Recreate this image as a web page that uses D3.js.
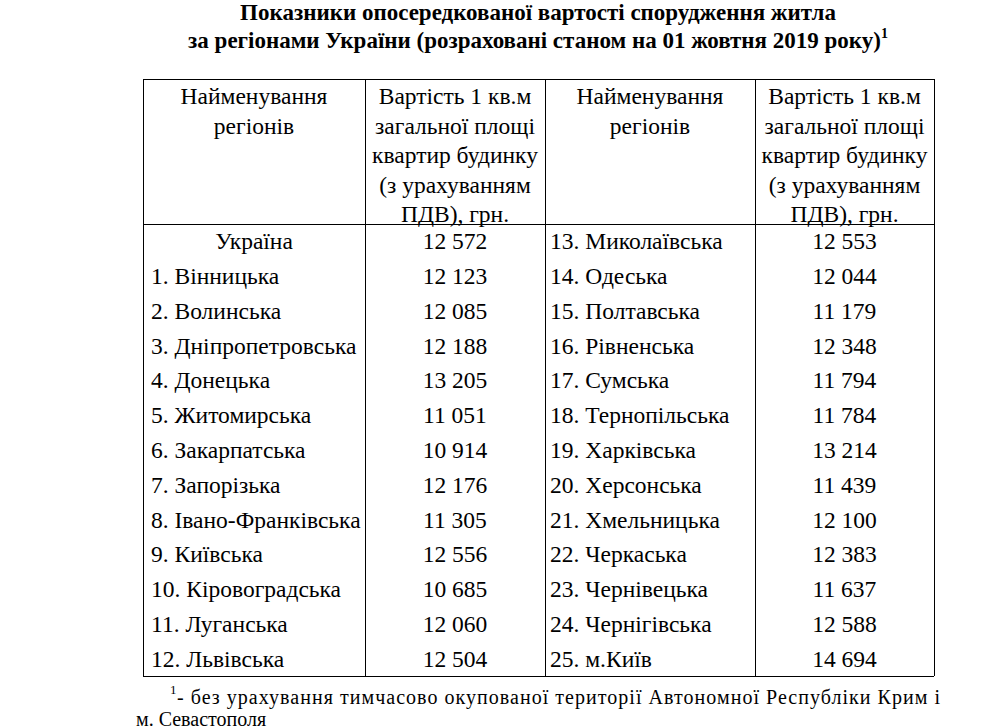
<!DOCTYPE html>
<html><head><meta charset="utf-8">
<script src="https://cdn.jsdelivr.net/npm/d3@7"></script>
<style>
body{margin:0;background:#fff;overflow:hidden}
text{font-family:"Liberation Serif",serif;fill:#000}
</style></head><body>
<svg width="981" height="727"></svg>
<script>
const leftNames = ["Україна","1. Вінницька","2. Волинська","3. Дніпропетровська","4. Донецька","5. Житомирська","6. Закарпатська","7. Запорізька","8. Івано-Франківська","9. Київська","10. Кіровоградська","11. Луганська","12. Львівська"];
const leftValues = ["12 572","12 123","12 085","12 188","13 205","11 051","10 914","12 176","11 305","12 556","10 685","12 060","12 504"];
const rightNames = ["13. Миколаївська","14. Одеська","15. Полтавська","16. Рівненська","17. Сумська","18. Тернопільська","19. Харківська","20. Херсонська","21. Хмельницька","22. Черкаська","23. Чернівецька","24. Чернігівська","25. м.Київ"];
const rightValues = ["12 553","12 044","11 179","12 348","11 794","11 784","13 214","11 439","12 100","12 383","11 637","12 588","14 694"];
const headName = ["Найменування","регіонів"];
const headValue = ["Вартість 1 кв.м","загальної площі","квартир будинку","(з урахуванням","ПДВ), грн."];

const FS = 23.5;
const svg = d3.select("svg");
const colX = [143, 365, 545, 755, 934];
const headTop = 79, bodyTop = 224, bodyBottom = 676;
const y = d3.scaleLinear().domain([0, leftNames.length]).range([bodyTop, bodyBottom]);

// title
const title = svg.append("text").attr("text-anchor","middle").attr("font-weight","bold").attr("font-size",23);
title.append("tspan").attr("x",538).attr("y",20).text("Показники опосередкованої вартості спорудження житла");
title.append("tspan").attr("x",538).attr("y",48).text("за регіонами України (розраховані станом на 01 жовтня 2019 року)");
title.append("tspan").attr("font-size",14).attr("dy",-10).text("1");

// grid
const g = svg.append("g").attr("stroke","#000").attr("stroke-width",1).attr("shape-rendering","crispEdges");
colX.forEach(x => g.append("line").attr("x1",x).attr("x2",x).attr("y1",headTop).attr("y2",bodyBottom));
[headTop, bodyTop, bodyBottom].forEach(v => g.append("line").attr("x1",colX[0]).attr("x2",colX[4]).attr("y1",v).attr("y2",v));

// header
function head(lines, cx){
  lines.forEach((s,i) => svg.append("text").attr("x",cx).attr("y",104+i*29.5)
    .attr("text-anchor","middle").attr("font-size",FS).text(s));
}
head(headName, (colX[0]+colX[1])/2);
head(headValue, (colX[1]+colX[2])/2);
head(headName, (colX[2]+colX[3])/2);
head(headValue, (colX[3]+colX[4])/2);

// body
const rowH = y(1)-y(0);
leftNames.forEach((n,i) => {
  const ty = y(i)+rowH/2+8;
  svg.append("text").attr("x", i===0 ? (colX[0]+colX[1])/2 : 151).attr("y",ty)
    .attr("text-anchor", i===0 ? "middle" : "start").attr("font-size",FS).text(n);
  svg.append("text").attr("x",(colX[1]+colX[2])/2).attr("y",ty).attr("text-anchor","middle").attr("font-size",FS).text(leftValues[i]);
  svg.append("text").attr("x",550).attr("y",ty).attr("font-size",FS).text(rightNames[i]);
  svg.append("text").attr("x",(colX[3]+colX[4])/2).attr("y",ty).attr("text-anchor","middle").attr("font-size",FS).text(rightValues[i]);
});

// footnote
svg.append("text").attr("x",170).attr("y",694).attr("font-size",13).text("1");
svg.append("text").attr("x",177).attr("y",704).attr("font-size",20)
  .attr("textLength",763).attr("lengthAdjust","spacing")
  .text("- без урахування тимчасово окупованої території Автономної Республіки Крим і");
svg.append("text").attr("x",136).attr("y",726).attr("font-size",20).text("м. Севастополя");
</script>
</body></html>
